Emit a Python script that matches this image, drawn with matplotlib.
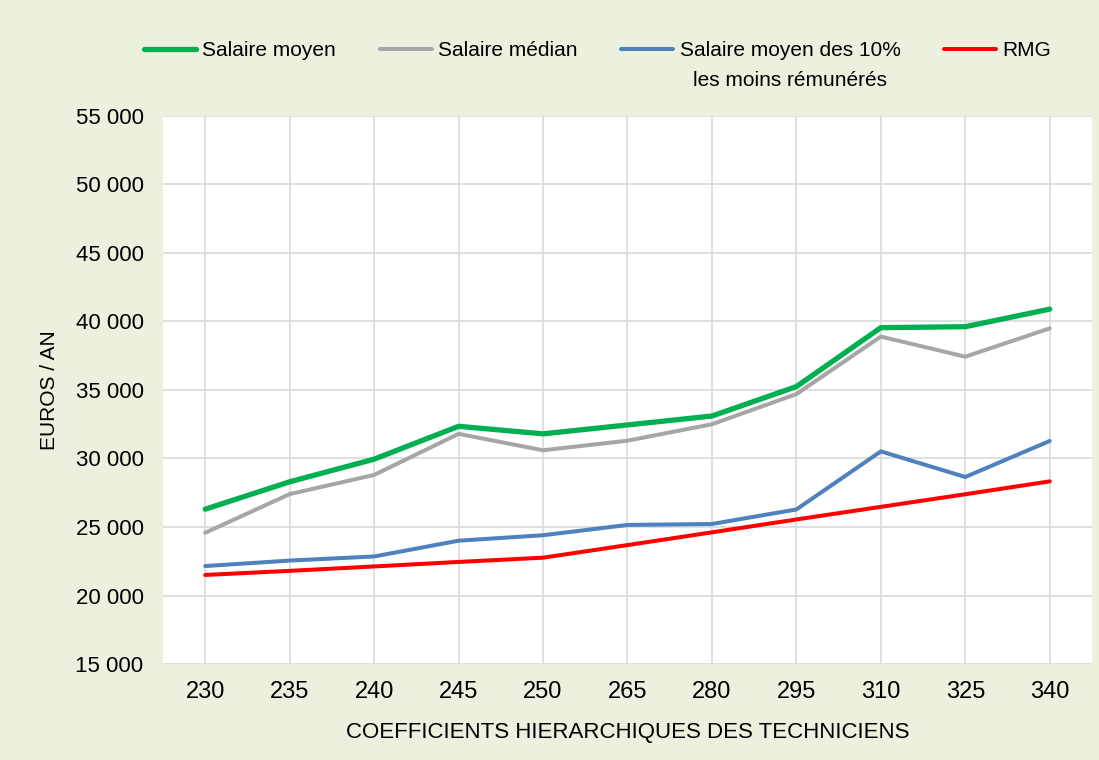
import matplotlib
matplotlib.use("Agg")
import matplotlib.pyplot as plt
from matplotlib.ticker import FuncFormatter, MultipleLocator

categories = ["230", "235", "240", "245", "250", "265", "280", "295", "310", "325", "340"]
salaire_moyen = [26300, 28300, 29950, 32350, 31800, 32450, 33100, 35250, 39550, 39620, 40900]
salaire_median = [24580, 27400, 28800, 31800, 30600, 31300, 32500, 34700, 38900, 37430, 39500]
salaire_10pct = [22150, 22550, 22850, 24000, 24400, 25150, 25220, 26280, 30520, 28650, 31280]
rmg = [21500, 21800, 22120, 22450, 22760, 23680, 24610, 25550, 26470, 27390, 28330]

legend_labels = ["Salaire moyen", "Salaire médian", "Salaire moyen des 10%", "RMG"]
legend_second_line = "les moins rémunérés"

series = [
    (legend_labels[0], salaire_moyen, "#00B050", 3.8),
    (legend_labels[1], salaire_median, "#A6A6A6", 2.9),
    (legend_labels[2], salaire_10pct, "#4F81BD", 2.9),
    (legend_labels[3], rmg, "#FF0000", 2.9),
]

narrow = ["Liberation Sans Narrow", "Liberation Sans", "DejaVu Sans"]
regular = ["Liberation Sans", "DejaVu Sans"]

bg = "#EBF0DF"
fig = plt.figure(figsize=(10.99, 7.6), dpi=100, facecolor=bg)
ax = fig.add_axes([0.1483, 0.1263, 0.8453, 0.7211])
ax.set_facecolor("white")

x = list(range(len(categories)))
for label, vals, color, lw in series:
    ax.plot(x, vals, color=color, lw=lw, label=label, solid_capstyle="round",
            solid_joinstyle="round", zorder=3)

ax.set_xlim(-0.5, len(categories) - 0.5)
ax.set_ylim(15000, 55000)
ax.yaxis.set_major_locator(MultipleLocator(5000))
ax.yaxis.set_major_formatter(FuncFormatter(lambda v, p: f"{int(v):,}".replace(",", " ")))
ax.set_xticks(x)
ax.set_xticklabels(categories)
ax.grid(True, color="#D9D9D9", lw=1.2, zorder=0)
for s in ax.spines.values():
    s.set_visible(False)
ax.tick_params(axis="both", length=0)
ax.tick_params(axis="y", pad=14)
ax.tick_params(axis="x", pad=12)
for t in ax.get_yticklabels():
    t.set_fontfamily(regular)
    t.set_fontsize(16)
    t.set_color("#000000")
for t in ax.get_xticklabels():
    t.set_fontfamily(narrow)
    t.set_fontsize(17)
ax.set_xlabel("COEFFICIENTS HIERARCHIQUES DES TECHNICIENS", family=narrow, fontsize=16, labelpad=14)
ax.set_ylabel("EUROS / AN", family=narrow, fontsize=15, labelpad=12)

leg = fig.legend(loc="center", bbox_to_anchor=(0.5437, 1 - 51 / 760), ncol=4, frameon=False,
                 prop={"family": narrow, "size": 15}, handlelength=2.5, handletextpad=0.3,
                 columnspacing=2.1)

fig.canvas.draw()
renderer = fig.canvas.get_renderer()
bb = leg.get_texts()[2].get_window_extent(renderer)
cx = (bb.x0 + bb.x1) / 2
fig.text(cx / fig.bbox.width, (bb.y0 - 30 + (bb.y1 - bb.y0) / 2) / fig.bbox.height,
         legend_second_line, family=narrow, fontsize=15, ha="center", va="center")

fig.savefig("out.png", dpi=100, facecolor=bg)
